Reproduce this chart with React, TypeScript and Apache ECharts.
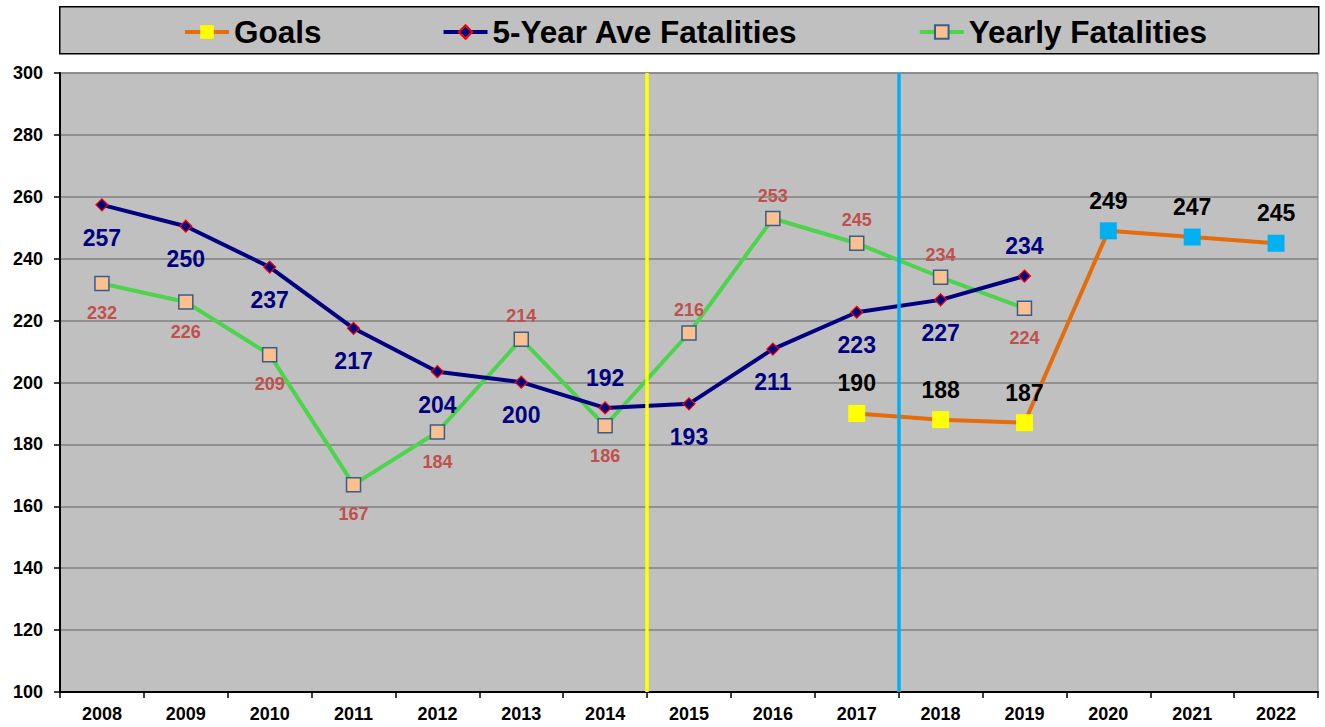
import React, { useEffect, useRef } from "react";
import * as echarts from "echarts";

const years = ["2008","2009","2010","2011","2012","2013","2014","2015","2016","2017","2018","2019","2020","2021","2022"];
const goals: (number | null)[] = [null,null,null,null,null,null,null,null,null,190,188,187,249,247,245];
const fiveYearAve: (number | null)[] = [257.4,250.5,237.3,217.5,203.5,200.1,191.8,193.1,210.8,222.7,226.7,234.4,null,null,null];
const fiveYearLabels = ["257","250","237","217","204","200","192","193","211","223","227","234"];
const yearly: (number | null)[] = [232,226,209,167,184,214,186,216,253,245,234,224,null,null,null];
const yTicks = { min: 100, max: 300, interval: 20 };
const dividers = [6.5, 9.5]; // positions between categories

const fiveAbove = new Set([6, 11]);
const yearlyAbove = new Set([5, 7, 8, 9, 10]);
const goalProjected = new Set([12, 13, 14]);

const FONT = "'Liberation Sans', Arial, sans-serif";

export default function App() {
  const ref = useRef<HTMLDivElement>(null);
  useEffect(() => {
    if (!ref.current) return;
    const chart = echarts.init(ref.current, undefined, { renderer: "svg" });
    const option: any = {
      animation: false,
      textStyle: { fontFamily: FONT },
      graphic: [
        {
          type: "rect",
          left: 59,
          top: 6,
          shape: { width: 1259, height: 47 },
          style: { fill: "#c0c0c0", stroke: "#000", lineWidth: 1.5 },
          z: -1,
        },
      ],
      legend: {
        top: 11,
        left: 178,
        itemWidth: 44,
        itemHeight: 17,
        itemGap: 120,
        lineStyle: { width: 4 },
        textStyle: { fontSize: 31.5, fontWeight: "bold", color: "#000", fontFamily: FONT },
        data: ["Goals", "5-Year Ave Fatalities", "Yearly Fatalities"],
      },
      grid: {
        left: 60,
        right: 7,
        top: 73,
        bottom: 35,
        show: true,
        backgroundColor: "#c0c0c0",
        borderColor: "#808080",
        borderWidth: 1,
      },
      xAxis: [
        {
          type: "category",
          data: years,
          boundaryGap: true,
          axisLine: { lineStyle: { color: "#000", width: 2 } },
          axisTick: { show: true, alignWithLabel: false, length: 6, lineStyle: { color: "#000", width: 1.5 } },
          axisLabel: { color: "#000", fontSize: 18, fontWeight: "bold", margin: 13, fontFamily: FONT },
          splitLine: { show: false },
        },
        {
          type: "value",
          min: -0.5,
          max: 14.5,
          show: false,
          splitLine: { show: false },
        },
      ],
      yAxis: {
        type: "value",
        min: yTicks.min,
        max: yTicks.max,
        interval: yTicks.interval,
        axisLine: { show: true, onZero: false, lineStyle: { color: "#000", width: 2 } },
        axisTick: { show: true, length: 6, lineStyle: { color: "#000", width: 1.5 } },
        axisLabel: { color: "#000", fontSize: 18, fontWeight: "bold", margin: 17, fontFamily: FONT },
        splitLine: { show: true, lineStyle: { color: "#808080", width: 1.5 } },
      },
      series: [
        {
          name: "Goals",
          type: "line",
          symbol: "rect",
          symbolSize: 17,
          lineStyle: { color: "#e46c0a", width: 4 },
          itemStyle: { color: "#ffff00" },
          z: 4,
          data: goals.map((v, i) =>
            v == null
              ? null
              : {
                  value: v,
                  itemStyle: goalProjected.has(i) ? { color: "#00b0f0" } : { color: "#ffff00" },
                  label: {
                    show: true,
                    position: "top",
                    distance: 10,
                    color: "#000",
                    fontSize: 23,
                    fontWeight: "bold",
                    fontFamily: FONT,
                  },
                }
          ),
        },
        {
          name: "5-Year Ave Fatalities",
          type: "line",
          symbol: "diamond",
          symbolSize: 12,
          lineStyle: { color: "#000080", width: 4 },
          itemStyle: { color: "#000080", borderColor: "#ff0000", borderWidth: 1.2 },
          z: 3,
          data: fiveYearAve.map((v, i) =>
            v == null
              ? null
              : {
                  value: v,
                  label: {
                    show: true,
                    position: fiveAbove.has(i) ? "top" : "bottom",
                    distance: fiveAbove.has(i) ? 12 : 15,
                    color: "#000080",
                    fontSize: 23,
                    fontWeight: "bold",
                    fontFamily: FONT,
                    formatter: () => fiveYearLabels[i],
                  },
                }
          ),
        },
        {
          name: "Yearly Fatalities",
          type: "line",
          symbol: "rect",
          symbolSize: 14,
          lineStyle: { color: "#4cd44c", width: 4 },
          itemStyle: { color: "#fac090", borderColor: "#385d8a", borderWidth: 1.5 },
          z: 2,
          data: yearly.map((v, i) =>
            v == null
              ? null
              : {
                  value: v,
                  label: {
                    show: true,
                    position: yearlyAbove.has(i) ? "top" : "bottom",
                    distance: yearlyAbove.has(i) ? 6 : 13,
                    color: "#c0504d",
                    fontSize: 18,
                    fontWeight: "bold",
                    fontFamily: FONT,
                  },
                }
          ),
        },
        {
          name: "dividers",
          type: "line",
          xAxisIndex: 1,
          yAxisIndex: 0,
          data: [],
          z: 1,
          markLine: {
            silent: true,
            symbol: "none",
            label: { show: false },
            data: [
              { xAxis: dividers[0], lineStyle: { color: "#ffff00", width: 3.5, type: "solid" } },
              { xAxis: dividers[1], lineStyle: { color: "#00b0f0", width: 3.5, type: "solid" } },
            ],
          },
        },
      ],
    };
    chart.setOption(option);
    return () => chart.dispose();
  }, []);
  return (
    <div
      ref={ref}
      style={{ position: "fixed", left: 0, top: 0, width: 1325, height: 727, background: "#fff" }}
    />
  );
}
